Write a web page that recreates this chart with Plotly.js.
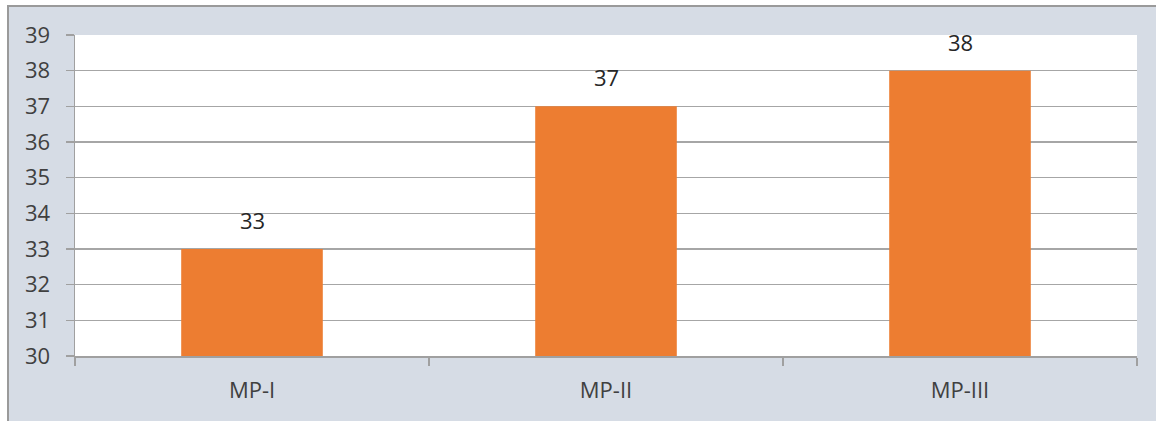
<!DOCTYPE html>
<html>
<head>
<meta charset="utf-8">
<script src="https://cdn.plot.ly/plotly-3.0.1.min.js"></script>
<style>
  html, body { margin: 0; padding: 0; background: #ffffff; }
  #wrap { position: absolute; left: 0; top: 0; width: 1156px; height: 421px; background: #ffffff; overflow: hidden; }
  #chart { position: absolute; left: 7px; top: 5px; width: 1149px; height: 416px;
           border-left: 2px solid #9a9a9a; border-top: 2px solid #9a9a9a; box-sizing: border-box; }
</style>
</head>
<body>
<div id="wrap"><div id="chart"></div></div>
<script>
const categories = ["MP-I", "MP-II", "MP-III"];
const values = [33, 37, 38];
const yTickVals = [30, 31, 32, 33, 34, 35, 36, 37, 38, 39];

const fontFam = "'Open Sans', Lato, sans-serif";
const textColor = "#404040";

const trace = {
  type: "bar",
  x: categories,
  y: values,
  marker: { color: "#ED7D31", line: { width: 0 } },
  hoverinfo: "skip"
};

const annotations = categories.map((c, i) => ({
  x: c, y: values[i], xref: "x", yref: "y",
  text: String(values[i]), showarrow: false,
  yanchor: "bottom", yshift: 12,
  font: { family: fontFam, size: 22, color: "#262626" }
}));

const layout = {
  width: 1147, height: 414,
  margin: { l: 66, r: 19, t: 28, b: 65, pad: 0 },
  paper_bgcolor: "#D6DCE5",
  plot_bgcolor: "#ffffff",
  bargap: 0.6,
  showlegend: false,
  font: { family: fontFam, size: 22, color: textColor },
  xaxis: {
    type: "category",
    tickson: "boundaries",
    ticks: "outside", ticklen: 8, tickwidth: 1.5, tickcolor: "#a0a0a0",
    showline: true, linecolor: "#a0a0a0", linewidth: 1.5,
    showgrid: false, zeroline: false,
    ticklabelstandoff: 14,
    tickfont: { family: fontFam, size: 22, color: textColor },
    fixedrange: true
  },
  yaxis: {
    range: [30, 39],
    tickvals: yTickVals,
    ticktext: yTickVals.map(String),
    ticks: "outside", ticklen: 8, tickwidth: 1.5, tickcolor: "#a0a0a0",
    showline: true, linecolor: "#a0a0a0", linewidth: 1.5,
    showgrid: true, gridcolor: "#a6a6a6", gridwidth: 1.5,
    zeroline: false,
    ticklabelstandoff: 11,
    tickfont: { family: fontFam, size: 22, color: textColor },
    fixedrange: true
  },
  annotations: annotations
};

Plotly.newPlot("chart", [trace], layout, { displayModeBar: false, staticPlot: true });
</script>
</body>
</html>
